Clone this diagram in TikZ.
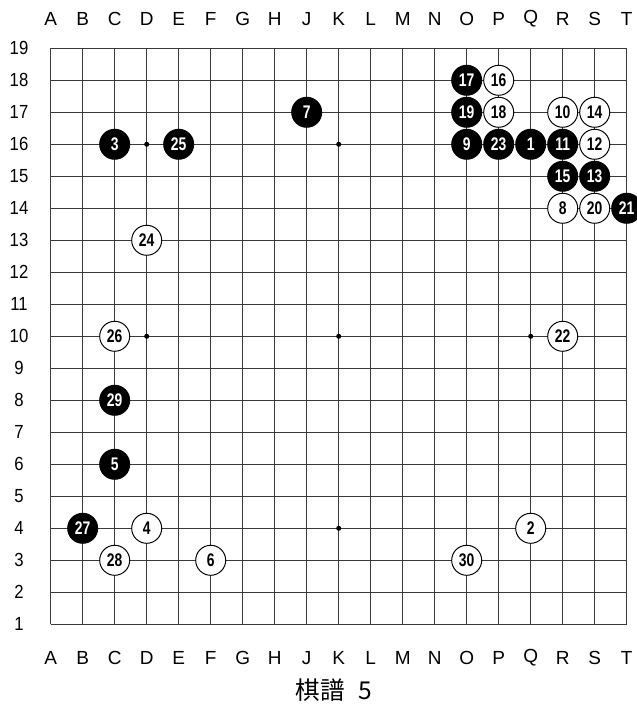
\documentclass[tikz,border=0pt]{standalone}
\usepackage{fontspec}
\usepackage{graphicx}
\setmainfont{Liberation Sans}
\newfontfamily\cjk{Noto Sans CJK JP}
\usetikzlibrary{positioning}
\definecolor{gridln}{HTML}{3A3A3A}
\newcommand\movenum[1]{\scalebox{0.76}[1]{#1}}
\tikzset{
  gridline/.style={draw=gridln, line width=0.7pt},
  hoshi/.style={circle, fill=black, inner sep=0pt, minimum size=3.6pt},
  stone/.style={circle, inner sep=0pt, minimum size=0.75cm, line width=0.7pt,
                draw=black, font=\fontsize{13}{13}\selectfont\bfseries},
  blackstone/.style={stone, fill=black, text=white},
  whitestone/.style={stone, fill=white, text=black},
  coordlbl/.style={font=\fontsize{13.5}{13.5}\selectfont}
}

\begin{document}
\begin{tikzpicture}[x=0.8cm,y=0.8cm]
  \useasboundingbox (-1.584,-2.522) rectangle (18.322,19.509);
  % board lines
  \foreach \i in {0,...,18} {
    \draw[gridline] (\i,0) -- (\i,18);
    \draw[gridline] (0,\i) -- (18,\i);
  }
  % star points
  \foreach \x in {3,9,15}
    \foreach \y in {3,9,15}
      \node[hoshi] (hoshi-\x-\y) at (\x,\y) {};
  % coordinates
  \foreach \c [count=\i from 0] in {A,B,C,D,E,F,G,H,J,K,L,M,N,O,P,Q,R,S,T} {
    \node[coordlbl] (top-\c) at (\i,18.91) {\c};
    \node[coordlbl] (bot-\c) at (\i,-1.05) {\c};
  }
  \foreach \r [evaluate=\r as \y using int(\r-1)] in {1,...,19}
    \node[coordlbl] (row-\r) at (-0.99,\y) {\scalebox{0.88}[1]{\r}};
  % moves
  \foreach \n/\x/\y/\s in {
    1/15/15/black, 2/15/3/white, 3/2/15/black, 4/3/3/white,
    5/2/5/black, 6/5/2/white, 7/8/16/black, 8/16/13/white,
    9/13/15/black, 10/16/16/white, 11/16/15/black, 12/17/15/white,
    13/17/14/black, 14/17/16/white, 15/16/14/black, 16/14/17/white,
    17/13/17/black, 18/14/16/white, 19/13/16/black, 20/17/13/white,
    21/18/13/black, 22/16/9/white, 23/14/15/black, 24/3/12/white,
    25/4/15/black, 26/2/9/white, 27/1/3/black, 28/2/2/white,
    29/2/7/black, 30/13/2/white}
    \node[\s stone] (move-\n) at (\x,\y) {\movenum{\n}};
  % caption
  \node[font=\cjk\fontsize{17.5}{17.5}\selectfont] (caption) at (8.85,-2.05) {棋譜\hspace{0.55em}5};
\end{tikzpicture}
\end{document}
